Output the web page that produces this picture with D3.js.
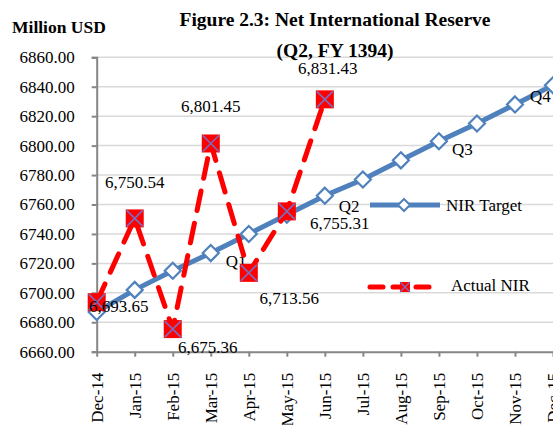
<!DOCTYPE html>
<html><head><meta charset="utf-8">
<script src="https://cdn.jsdelivr.net/npm/d3@7"></script>
<style>
html,body{margin:0;padding:0;background:#fff;}
svg{display:block;font-family:"Liberation Serif","Times New Roman",serif;}
</style></head>
<body><svg id="c" width="553" height="425"></svg>
<script>
const months = ["Dec-14","Jan-15","Feb-15","Mar-15","Apr-15","May-15","Jun-15","Jul-15","Aug-15","Sep-15","Oct-15","Nov-15","Dec-15"];
const targetValues = [6687,6702,6715,6727,6740,6753,6766,6777,6790,6803,6815,6828,6841];
const actualValues = [6693.65,6750.54,6675.36,6801.45,6713.56,6755.31,6831.43];
const actualLabels = ["6,693.65","6,750.54","6,675.36","6,801.45","6,713.56","6,755.31","6,831.43"];
const quarterLabels = [{i:3,t:"Q1"},{i:6,t:"Q2"},{i:9,t:"Q3"},{i:12,t:"Q4"}];
const yTicks = [6660,6680,6700,6720,6740,6760,6780,6800,6820,6840,6860];

(function(){
const svg = d3.select("#c");
const pLeft = 96.7, pRight = 553, pTop = 57.3, pBottom = 351.7;
const x = d3.scalePoint().domain(months).range([pLeft, pRight]).padding(0);
const y = d3.scaleLinear().domain([6660, 6860]).range([pBottom, pTop]);

// gridlines
svg.append("g").selectAll("line").data(yTicks.slice(1)).join("line")
  .attr("x1", pLeft).attr("x2", 553).attr("y1", d=>y(d)).attr("y2", d=>y(d))
  .attr("stroke", "#d9d9d9").attr("stroke-width", 1.5);

// y axis
const yAxis = svg.append("g").attr("transform", `translate(${pLeft},0)`)
  .call(d3.axisLeft(y).tickValues(yTicks).tickSize(5).tickPadding(17).tickFormat(d3.format(".2f")));
yAxis.selectAll("text").attr("font-size", 17).attr("fill", "#000").attr("font-family", "Liberation Serif");
yAxis.select(".domain").attr("stroke", "#868686").attr("stroke-width", 2);
yAxis.selectAll(".tick line").attr("stroke", "#868686").attr("stroke-width", 2);

// x axis
const xAxis = svg.append("g").attr("transform", `translate(0,${pBottom})`)
  .call(d3.axisBottom(x).tickSize(5).tickSizeOuter(0));
xAxis.select(".domain").attr("stroke", "#868686").attr("stroke-width", 2);
xAxis.selectAll(".tick line").attr("stroke", "#868686").attr("stroke-width", 2);
xAxis.selectAll("text").attr("font-size", 17).attr("fill", "#000").attr("font-family", "Liberation Serif")
  .attr("transform", "rotate(-90)").attr("text-anchor", "end")
  .attr("x", -21).attr("y", 0).attr("dy", "0.35em");

// target line
const line = d3.line().x((d,i)=>x(months[i])).y(d=>y(d));
svg.append("path").datum(targetValues).attr("d", line)
  .attr("fill","none").attr("stroke","#4f81bd").attr("stroke-width",5).attr("stroke-linejoin","round");
const dia = "M0,-8L8,0L0,8L-8,0Z";
svg.append("g").selectAll("path").data(targetValues).join("path")
  .attr("d", dia)
  .attr("transform",(d,i)=>`translate(${x(months[i])},${y(d)})`)
  .attr("fill","#fff").attr("stroke","#4f81bd").attr("stroke-width",2.2);

// quarter labels
const qOff = {Q1:[15,8],Q2:[14,10],Q3:[13,8],Q4:[-23,11]};
svg.append("g").selectAll("text").data(quarterLabels).join("text")
  .attr("x", d=>x(months[d.i]) + qOff[d.t][0])
  .attr("y", d=>y(targetValues[d.i]) + qOff[d.t][1])
  .attr("dy","0.35em").attr("font-size",17).text(d=>d.t);

// actual line
svg.append("path").datum(actualValues).attr("d", line)
  .attr("fill","none").attr("stroke","#ff0000").attr("stroke-width",5)
  .attr("stroke-dasharray","20,13").attr("stroke-linecap","round");
const mk = svg.append("g").selectAll("g").data(actualValues).join("g")
  .attr("transform",(d,i)=>`translate(${x(months[i])},${y(d)})`);
mk.append("rect").attr("x",-9).attr("y",-9).attr("width",18).attr("height",18).attr("fill","#ff0000");
mk.append("path").attr("d","M-8,-8L8,8M8,-8L-8,8").attr("stroke","#7b6cc0").attr("stroke-width",1.6);

// actual labels
const aOff = [[22,4],[0,-36],[35,18],[0,-37.5],[40.5,25.5],[53,11.5],[3,-31]];
svg.append("g").selectAll("text").data(actualValues).join("text")
  .attr("x",(d,i)=>x(months[i]) + aOff[i][0])
  .attr("y",(d,i)=>y(d) + aOff[i][1])
  .attr("dy","0.35em").attr("text-anchor","middle").attr("font-size",17)
  .text((d,i)=>actualLabels[i]);

// legend
const lg1 = svg.append("g");
lg1.append("line").attr("x1",370).attr("x2",440).attr("y1",205).attr("y2",205)
  .attr("stroke","#4f81bd").attr("stroke-width",5);
lg1.append("path").attr("d","M0,-6L6,0L0,6L-6,0Z").attr("transform","translate(404,205)")
  .attr("fill","#fff").attr("stroke","#4f81bd").attr("stroke-width",2);
lg1.append("text").attr("x",446).attr("y",205).attr("dy","0.35em").attr("font-size",17).text("NIR Target");

const lg2 = svg.append("g");
lg2.append("line").attr("x1",370).attr("x2",436).attr("y1",287).attr("y2",287)
  .attr("stroke","#ff0000").attr("stroke-width",5).attr("stroke-dasharray","13,10").attr("stroke-linecap","round");
lg2.append("rect").attr("x",400).attr("y",282).attr("width",10).attr("height",10).attr("fill","#ff0000");
lg2.append("path").attr("d","M400,282L410,292M410,282L400,292").attr("stroke","#7b6cc0").attr("stroke-width",1.3);
lg2.append("text").attr("x",451).attr("y",285).attr("dy","0.35em").attr("font-size",17).text("Actual NIR");

// titles
svg.append("text").attr("x",12).attr("y",33).attr("font-size",17.5).attr("font-weight","bold").text("Million USD");
svg.append("text").attr("x",335).attr("y",26).attr("text-anchor","middle").attr("font-size",19.5).attr("font-weight","bold")
  .text("Figure 2.3: Net International Reserve");
svg.append("text").attr("x",335).attr("y",57).attr("text-anchor","middle").attr("font-size",19.5).attr("font-weight","bold")
  .text("(Q2, FY 1394)");
})();
</script></body></html>
